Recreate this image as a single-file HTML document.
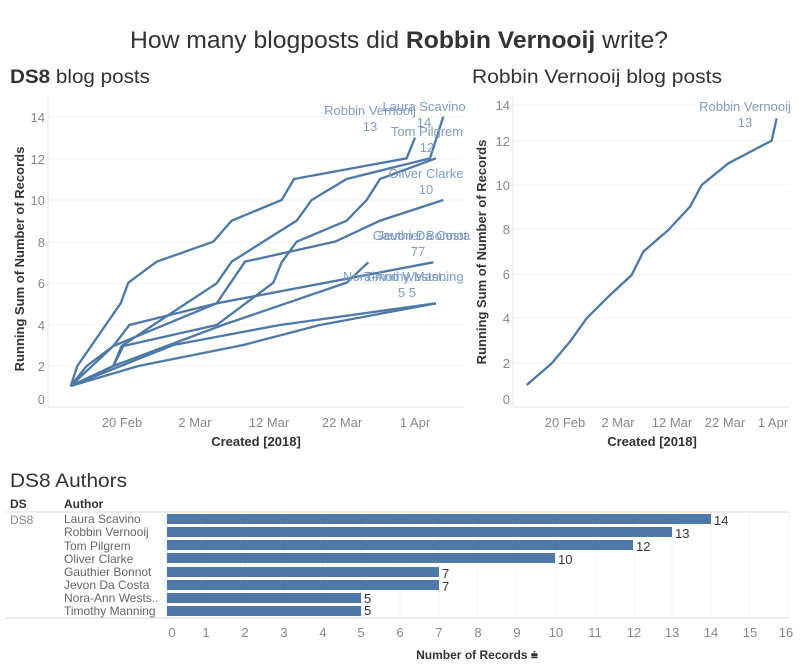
<!DOCTYPE html>
<html><head><meta charset="utf-8"><style>
html,body{margin:0;padding:0;background:#fff;}
svg{display:block;font-family:"Liberation Sans Narrow","Liberation Sans",sans-serif;}
</style></head><body>
<svg width="804" height="668" viewBox="0 0 804 668" xmlns="http://www.w3.org/2000/svg">
<!-- titles -->
<text x="130" y="48" font-size="24" fill="#333" textLength="538" lengthAdjust="spacingAndGlyphs">How many blogposts did <tspan font-weight="bold">Robbin Vernooij</tspan> write?</text>
<text x="10" y="83" font-size="19" fill="#333" textLength="140" lengthAdjust="spacingAndGlyphs"><tspan font-weight="bold">DS8</tspan> blog posts</text>
<text x="472" y="83" font-size="19" fill="#333" textLength="250" lengthAdjust="spacingAndGlyphs">Robbin Vernooij blog posts</text>

<!-- LEFT CHART -->
<g stroke="#f0f0f0" stroke-width="1">
<line x1="48" y1="117" x2="463" y2="117"/><line x1="48" y1="159" x2="463" y2="159"/><line x1="48" y1="200" x2="463" y2="200"/><line x1="48" y1="242" x2="463" y2="242"/><line x1="48" y1="283" x2="463" y2="283"/><line x1="48" y1="325" x2="463" y2="325"/><line x1="48" y1="366" x2="463" y2="366"/>
</g>
<line x1="48" y1="96" x2="48" y2="407" stroke="#e6e6e6"/>
<line x1="48" y1="407" x2="463" y2="407" stroke="#e6e6e6"/>
<g font-size="13" fill="#888" text-anchor="end">
<text x="45" y="122">14</text><text x="45" y="164">12</text><text x="45" y="205">10</text><text x="45" y="247">8</text><text x="45" y="288">6</text><text x="45" y="330">4</text><text x="45" y="371">2</text><text x="45" y="404">0</text>
</g>
<g font-size="13" fill="#888" text-anchor="middle">
<text x="122" y="427">20 Feb</text><text x="195" y="427">2 Mar</text><text x="269" y="427">12 Mar</text><text x="342" y="427">22 Mar</text><text x="415" y="427">1 Apr</text>
</g>
<text x="256" y="446" font-size="13" fill="#333" font-weight="bold" text-anchor="middle">Created [2018]</text>
<text transform="translate(24,259) rotate(-90)" font-size="13" fill="#333" font-weight="bold" text-anchor="middle">Running Sum of Number of Records</text>
<g transform="translate(0,90) scale(0.33333)" fill="none" stroke="#4e79a7" stroke-width="7" stroke-linejoin="round">
<polyline points="212,888 232,828 362,640 385,578 470,515 640,455 695,392 845,330 882,267 1220,205 1245,143"/>
<polyline points="212,888 340,828 365,768 460,705 650,580 695,515 790,455 890,392 935,330 1040,267 1290,205 1330,80"/>
<polyline points="212,888 340,828 370,768 650,705 820,578 845,517 890,455 1040,392 1100,330 1140,267 1308,205"/>
<polyline points="212,888 260,828 340,768 650,640 735,515 1005,455 1140,392 1330,330"/>
<polyline points="212,888 340,828 668,705 1040,578 1105,517"/>
<polyline points="212,888 340,768 388,705 650,640 1300,517"/>
<polyline points="212,888 415,828 730,765 960,705 1308,640"/>
<polyline points="212,888 520,765 840,705 1308,640"/>
</g>
<g font-size="13" fill="#7f9cc6" text-anchor="middle">
<text x="370" y="115">Robbin Vernooij</text><text x="370" y="131">13</text>
<text x="424" y="111">Laura Scavino</text><text x="424" y="127">14</text>
<text x="427" y="136">Tom Pilgrem</text><text x="427" y="152">12</text>
<text x="426" y="178">Oliver Clarke</text><text x="426" y="194">10</text>
<text x="420" y="240">Gauthier Bonnot</text><text x="424" y="240">Jevon Da Costa</text><text x="418" y="256">77</text>
<text x="396" y="281">Nora-Ann Westst..</text><text x="414" y="281">Timothy Manning</text><text x="407" y="297">5 5</text>
</g>

<!-- RIGHT CHART -->
<g stroke="#f0f0f0" stroke-width="1">
<line x1="513" y1="105" x2="790" y2="105"/><line x1="513" y1="141" x2="790" y2="141"/><line x1="513" y1="185" x2="790" y2="185"/><line x1="513" y1="229" x2="790" y2="229"/><line x1="513" y1="274" x2="790" y2="274"/><line x1="513" y1="318" x2="790" y2="318"/><line x1="513" y1="363" x2="790" y2="363"/>
</g>
<line x1="513" y1="96" x2="513" y2="407" stroke="#e6e6e6"/>
<line x1="513" y1="407" x2="790" y2="407" stroke="#e6e6e6"/>
<g font-size="13" fill="#888" text-anchor="end">
<text x="510" y="110">14</text><text x="510" y="146">12</text><text x="510" y="190">10</text><text x="510" y="234">8</text><text x="510" y="279">6</text><text x="510" y="323">4</text><text x="510" y="368">2</text><text x="510" y="404">0</text>
</g>
<g font-size="13" fill="#888" text-anchor="middle">
<text x="565" y="427">20 Feb</text><text x="618" y="427">2 Mar</text><text x="672" y="427">12 Mar</text><text x="725" y="427">22 Mar</text><text x="773" y="427">1 Apr</text>
</g>
<text x="652" y="446" font-size="13" fill="#333" font-weight="bold" text-anchor="middle">Created [2018]</text>
<text transform="translate(486,252) rotate(-90)" font-size="13" fill="#333" font-weight="bold" text-anchor="middle">Running Sum of Number of Records</text>
<g transform="translate(470,60) scale(0.33333)" fill="none" stroke="#4e79a7" stroke-width="7" stroke-linejoin="round">
<polyline points="170,975 245,910 300,845 350,775 415,710 485,645 520,575 595,510 660,440 695,375 775,310 905,242 920,175"/>
</g>
<g font-size="13" fill="#7f9cc6" text-anchor="middle">
<text x="745" y="111">Robbin Vernooij</text><text x="745" y="127">13</text>
</g>

<!-- BAR CHART -->
<text x="10" y="487" font-size="19" fill="#333" textLength="117" lengthAdjust="spacingAndGlyphs">DS8 Authors</text>
<text x="10" y="508" font-size="12" fill="#333" font-weight="bold">DS</text>
<text x="64" y="508" font-size="12" fill="#333" font-weight="bold">Author</text>
<line x1="6" y1="512" x2="790" y2="512" stroke="#ddd"/>
<line x1="6" y1="618" x2="790" y2="618" stroke="#ddd"/>
<g stroke="#f2f2f2">
<line x1="206" y1="512" x2="206" y2="618"/><line x1="245" y1="512" x2="245" y2="618"/><line x1="284" y1="512" x2="284" y2="618"/><line x1="323" y1="512" x2="323" y2="618"/><line x1="361" y1="512" x2="361" y2="618"/><line x1="400" y1="512" x2="400" y2="618"/><line x1="439" y1="512" x2="439" y2="618"/><line x1="478" y1="512" x2="478" y2="618"/><line x1="517" y1="512" x2="517" y2="618"/><line x1="556" y1="512" x2="556" y2="618"/><line x1="595" y1="512" x2="595" y2="618"/><line x1="634" y1="512" x2="634" y2="618"/><line x1="672" y1="512" x2="672" y2="618"/><line x1="711" y1="512" x2="711" y2="618"/><line x1="750" y1="512" x2="750" y2="618"/><line x1="789" y1="512" x2="789" y2="618"/>
</g>
<line x1="167" y1="512" x2="167" y2="618" stroke="#e6e6e6"/>
<text x="10" y="524" font-size="12" fill="#888">DS8</text>
<g font-size="12" fill="#666">
<text x="64" y="523">Laura Scavino</text><text x="64" y="536">Robbin Vernooij</text><text x="64" y="550">Tom Pilgrem</text><text x="64" y="563">Oliver Clarke</text><text x="64" y="576">Gauthier Bonnot</text><text x="64" y="589">Jevon Da Costa</text><text x="64" y="602">Nora-Ann Wests..</text><text x="64" y="615">Timothy Manning</text>
</g>
<g fill="#4e79a7">
<rect x="167" y="514" width="544" height="10"/>
<rect x="167" y="527" width="505" height="10"/>
<rect x="167" y="540" width="466" height="10"/>
<rect x="167" y="553" width="388" height="10"/>
<rect x="167" y="567" width="272" height="10"/>
<rect x="167" y="580" width="272" height="10"/>
<rect x="167" y="593" width="194" height="10"/>
<rect x="167" y="606" width="194" height="10"/>
</g>
<g font-size="13" fill="#333">
<text x="714" y="525">14</text><text x="675" y="538">13</text><text x="636" y="551">12</text><text x="558" y="564">10</text><text x="442" y="578">7</text><text x="442" y="591">7</text><text x="364" y="603">5</text><text x="364" y="615">5</text>
</g>
<g font-size="13" fill="#888" text-anchor="middle">
<text x="172" y="637">0</text><text x="206" y="637">1</text><text x="245" y="637">2</text><text x="284" y="637">3</text><text x="323" y="637">4</text><text x="361" y="637">5</text><text x="400" y="637">6</text><text x="439" y="637">7</text><text x="478" y="637">8</text><text x="517" y="637">9</text><text x="556" y="637">10</text><text x="595" y="637">11</text><text x="634" y="637">12</text><text x="672" y="637">13</text><text x="711" y="637">14</text><text x="750" y="637">15</text><text x="786" y="637">16</text>
</g>
<text x="477" y="659" font-size="12" fill="#333" font-weight="bold" text-anchor="middle">Number of Records ⩧</text>
</svg>
</body></html>
